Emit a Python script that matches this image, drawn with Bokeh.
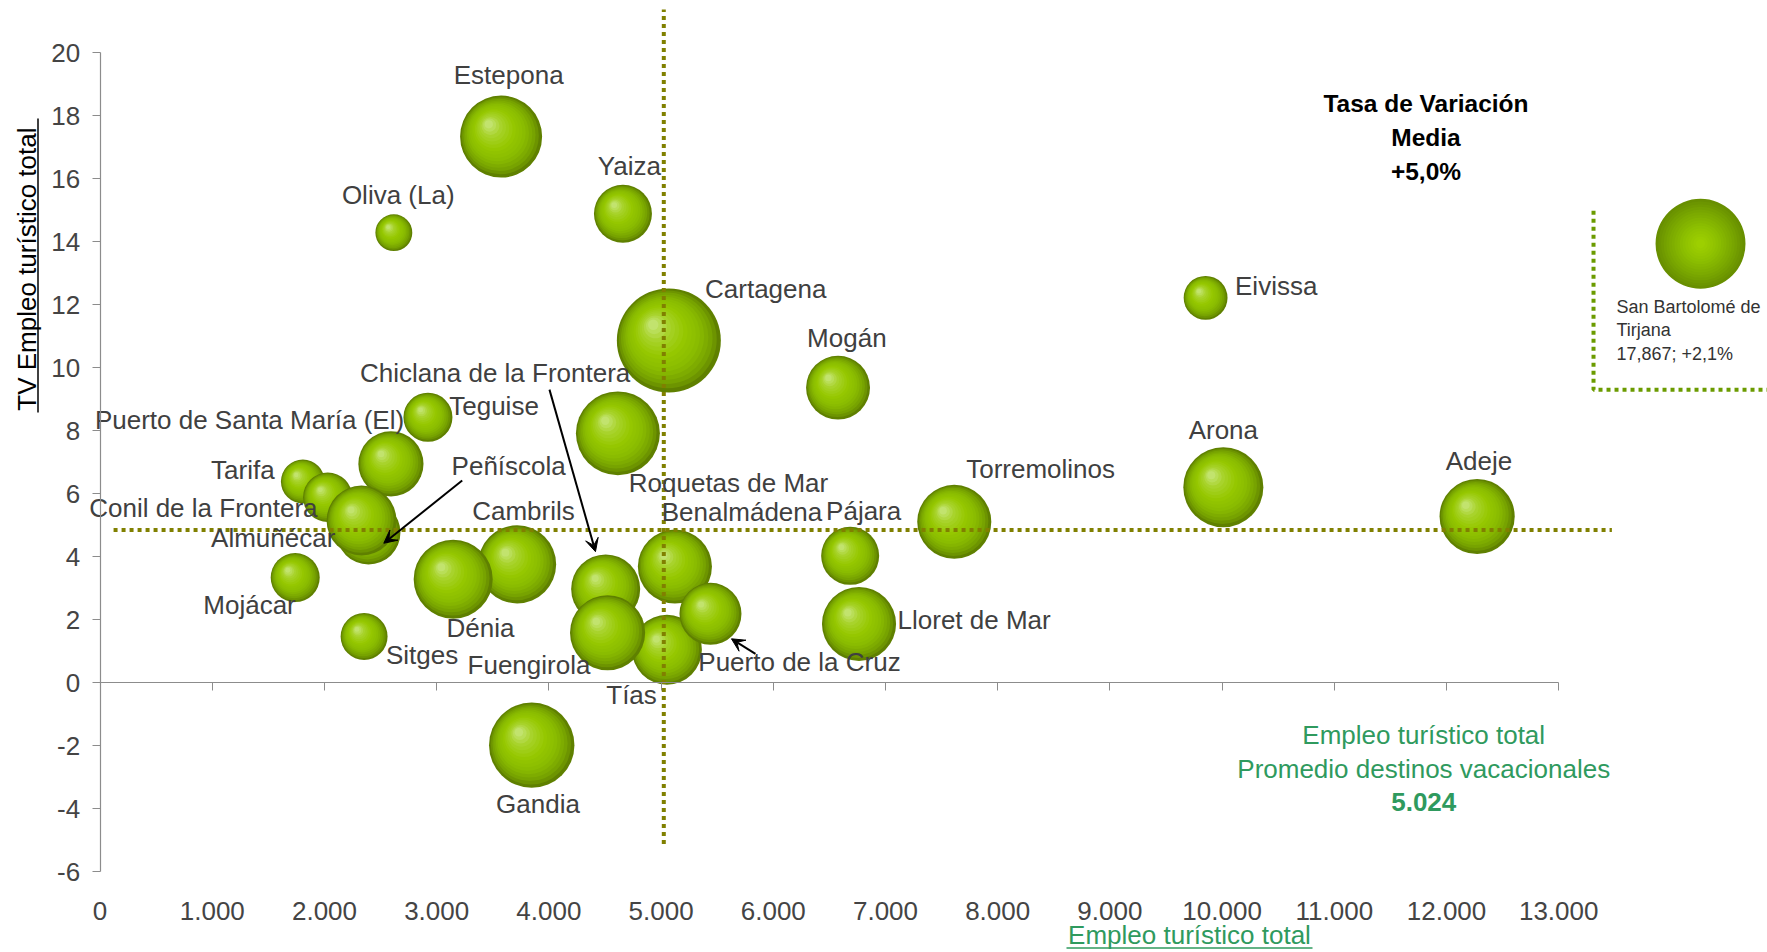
import math
from bokeh.plotting import figure
from bokeh.models import (ColumnDataSource, Label, Arrow, VeeHead,
                          FixedTicker, LinearAxis, Range1d)
from bokeh.core.properties import value
from bokeh.embed import file_html
from bokeh.resources import INLINE

# ------------------------------------------------------------------ data
destinos = ["Oliva (La)", "Estepona", "Yaiza", "Cartagena", "Mogán", "Eivissa",
            "Teguise", "Puerto de Santa María (El)", "Tarifa", "Conil de la Frontera",
            "Peñíscola", "Almuñécar", "Mojácar", "Sitges", "Cambrils", "Dénia",
            "Gandia", "Roquetas de Mar", "Chiclana de la Frontera", "Tías",
            "Fuengirola", "Benalmádena", "Puerto de la Cruz", "Pájara",
            "Lloret de Mar", "Torremolinos", "Arona", "Adeje"]
empleo_total = [2618, 3574, 4660, 5069, 6577, 9853,
                2922, 2592, 1807, 2029,
                2392, 2330, 1739, 2353, 3717, 3147,
                3847, 4615, 4506, 5052,
                4523, 5123, 5440, 6685,
                6764, 7613, 10011, 12273]
tv_empleo = [14.29, 17.34, 14.89, 10.87, 9.37, 12.22,
             8.43, 6.95, 6.39, 5.89,
             4.77, 5.15, 3.34, 1.47, 3.76, 3.29,
             -1.98, 7.92, 2.98, 1.05,
             1.59, 3.69, 2.19, 4.03,
             1.87, 5.11, 6.21, 5.28]
tam_burbuja = [34, 168, 84, 270, 102, 48,
               60, 106, 48, 61,
               102, 122, 60, 55, 152, 156,
               182, 176, 119, 122,
               141, 137, 96, 84,
               137, 137, 160, 141]

sb_nombre = ["San Bartolomé de", "Tirjana"]
sb_empleo = 17867
sb_tv = 2.1
sb_tam = 202

promedio_empleo = 5024
tv_media = 5.0
tv_media_linea = 4.85

x_ticks = list(range(0, 14000, 1000))
y_ticks = list(range(-6, 21, 2))

# ------------------------------------------------------------------ layout / style
W, H = 1767, 952
PX_X = 0.1122          # px per employment unit
PX_Y = 31.5            # px per TV unit
X_ORIGIN_PX = 99.6     # canvas x of employment 0
Y20_PX = 52.3          # canvas y of TV = 20
X0 = -X_ORIGIN_PX / PX_X
X1 = X0 + W / PX_X
Y1 = 20 + Y20_PX / PX_Y
Y0 = Y1 - H / PX_Y
R_MAX = 52.0


def cx(px):
    return X0 + px / PX_X


def cy(py):
    return Y1 - py / PX_Y


FONT = "Liberation Sans"
LABEL_COL = "#404040"
GREEN_TXT = "#2f9a5e"
OLIVE = "#808000"
INSET_GREEN = "#6b9b00"
AXIS_COL = "#8c8c8c"

label_off = {
    "Estepona": (7.6, -61.6), "Oliva (La)": (4.4, -37.3), "Yaiza": (6.4, -47.6),
    "Cartagena": (96.9, -51.5), "Mogán": (8.8, -49.3), "Eivissa": (70.6, -12.2),
    "Arona": (0, -57.3), "Adeje": (1.9, -55.1), "Torremolinos": (86.3, -52.5),
    "Pájara": (13.5, -44.8), "Lloret de Mar": (115.1, -3.5),
    "Benalmádena": (67.1, -54.4), "Roquetas de Mar": (110.6, 49.6),
    "Puerto de la Cruz": (89, 48.2), "Tías": (-35.4, 44.9),
    "Fuengirola": (-78.6, 32.6), "Chiclana de la Frontera": (-110.5, -216.4),
    "Teguise": (66.1, -11), "Puerto de Santa María (El)": (-141.4, -44.1),
    "Peñíscola": (140.2, -66.6), "Tarifa": (-60, -11.1),
    "Conil de la Frontera": (-124.4, 10.4), "Almuñécar": (-88.3, 17.5),
    "Cambrils": (6.3, -53.5), "Mojácar": (-45.7, 27), "Dénia": (27.3, 49),
    "Sitges": (57.9, 18.7), "Gandia": (6.3, 58.8),
}
arrows = [  # target, start offset px, end offset px (y down)
    ("Chiclana de la Frontera", (-56.2, -199.3), (-10.2, -37.3)),
    ("Peñíscola", (93.7, -52.0), (15.3, 10.7)),
    ("Puerto de la Cruz", (45.0, 40.0), (21.0, 25.0)),
]


def hx(c):
    return tuple(int(c[i:i + 2], 16) for i in (1, 3, 5))


def grad(stops, t):
    for (t0, c0), (t1, c1) in zip(stops, stops[1:]):
        if t <= t1:
            u = 0 if t1 == t0 else (t - t0) / (t1 - t0)
            a, b = hx(c0), hx(c1)
            return "#%02x%02x%02x" % tuple(round(a[i] + (b[i] - a[i]) * u) for i in range(3))
    return stops[-1][1]


STOPS = [(0.0, "#5f8000"), (0.1, "#749e00"), (0.3, "#88ba00"),
         (0.55, "#96c800"), (0.8, "#a8d32c"), (1.0, "#c2e36e")]
STOPS_INSET = [(0.0, "#688f00"), (0.3, "#7aa800"), (0.7, "#8fc200"), (1.0, "#9dcf00")]
NL = 16


def bubble_layers(xs, ys, radii, stops, shift):
    out = dict(x=[], y=[], size=[], color=[])
    for xv, yv, r in zip(xs, ys, radii):
        for k in range(NL):
            t = k / (NL - 1)
            f = 1 - 0.9 * t
            s = shift * r * t
            out["x"].append(xv - s / PX_X)
            out["y"].append(yv + s / PX_Y)
            out["size"].append(2 * r * f)
            out["color"].append(grad(stops, t))
    return out


radii = [R_MAX * math.sqrt(s / max(tam_burbuja)) for s in tam_burbuja]

p = figure(width=W, height=H, x_range=Range1d(X0, X1), y_range=Range1d(Y0, Y1),
           output_backend="svg", toolbar_location=None,
           x_axis_location=None, y_axis_location=None,
           min_border_left=0, min_border_right=0, min_border_top=0,
           min_border_bottom=0)
p.outline_line_color = None
p.xgrid.visible = False
p.ygrid.visible = False
p.background_fill_color = "white"

# x axis crossing at TV = 0, labels placed low (as in the reference)
xa = LinearAxis(fixed_location=0, ticker=FixedTicker(ticks=x_ticks),
                bounds=(x_ticks[0], x_ticks[-1]),
                major_label_overrides={t: f"{t:,}".replace(",", ".") for t in x_ticks},
                axis_line_color=AXIS_COL, axis_line_width=1.2,
                major_tick_line_color=AXIS_COL, major_tick_out=8, major_tick_in=0,
                minor_tick_line_color=None,
                major_label_standoff=211,
                major_label_text_font=FONT, major_label_text_font_size="26px",
                major_label_text_color="#444444")
p.add_layout(xa, "below")

ya = LinearAxis(fixed_location=0, ticker=FixedTicker(ticks=y_ticks),
                bounds=(y_ticks[0], y_ticks[-1]),
                major_label_overrides={t: str(t) for t in y_ticks},
                axis_line_color=AXIS_COL, axis_line_width=1.2,
                major_tick_line_color=AXIS_COL, major_tick_out=8, major_tick_in=0,
                minor_tick_line_color=None, major_label_standoff=12,
                major_label_text_font=FONT, major_label_text_font_size="26px",
                major_label_text_color="#444444")
p.add_layout(ya, "left")

# bubbles
src = ColumnDataSource(bubble_layers(empleo_total, tv_empleo, radii, STOPS, 0.3))
p.scatter(x="x", y="y", size="size", fill_color="color", line_color=None, source=src)

# inset bubble (San Bartolomé de Tirjana, off scale)
INSET_X, INSET_Y = 14264, 13.94
sb_r = R_MAX * math.sqrt(sb_tam / max(tam_burbuja))
src_sb = ColumnDataSource(bubble_layers([INSET_X], [INSET_Y], [sb_r], STOPS_INSET, 0.0))
p.scatter(x="x", y="y", size="size", fill_color="color", line_color=None, source=src_sb)

# average lines
p.segment(x0=[promedio_empleo], y0=[-5.12], x1=[promedio_empleo], y1=[cy(9)],
          line_color=OLIVE, line_width=4, line_dash="4 4")
p.segment(x0=[120], y0=[tv_media_linea], x1=[13474], y1=[tv_media_linea],
          line_color=OLIVE, line_width=4, line_dash="4 4")

# inset frame line
ix = INSET_X - 107 / PX_X
p.line(x=[ix, ix, X1 + 500], y=[INSET_Y + 33 / PX_Y, INSET_Y - 146 / PX_Y, INSET_Y - 146 / PX_Y],
       line_color=INSET_GREEN, line_width=4, line_dash="4 4")

# data labels
lab = ColumnDataSource(dict(
    x=empleo_total, y=tv_empleo, text=destinos,
    xo=[label_off[d][0] for d in destinos],
    yo=[label_off[d][1] for d in destinos]))
p.text(x="x", y="y", text="text", x_offset="xo", y_offset="yo", source=lab,
       text_align="center", text_baseline="middle",
       text_font=value(FONT), text_font_size="26px", text_color=LABEL_COL)

# arrows
for name, (sx, sy), (ex, ey) in arrows:
    i = destinos.index(name)
    xv, yv = empleo_total[i], tv_empleo[i]
    p.add_layout(Arrow(x_start=xv + sx / PX_X, y_start=yv - sy / PX_Y,
                       x_end=xv + ex / PX_X, y_end=yv - ey / PX_Y,
                       line_color="black", line_width=2,
                       end=VeeHead(size=13, fill_color="black", line_color="black")))

# inset texts
sb_lines = sb_nombre + [f"{sb_empleo:,}; +{str(sb_tv).replace('.', ',')}%"]
for k, t in enumerate(sb_lines):
    p.add_layout(Label(x=INSET_X, y=INSET_Y, x_offset=-84, y_offset=-(63.4 + 23.3 * k),
                       text=t, text_align="left", text_baseline="middle",
                       text_font=FONT, text_font_size="18px", text_color="#333333"))

# Tasa de variación media block
tasa = ["Tasa de Variación", "Media", f"+{tv_media:.1f}%".replace(".", ",")]
for k, t in enumerate(tasa):
    p.add_layout(Label(x=11817, y=18.38, y_offset=-34 * k, text=t,
                       text_align="center", text_baseline="middle",
                       text_font=FONT, text_font_size="24.5px", text_color="black",
                       text_font_style="bold"))

# promedio empleo block
prom = ["Empleo turístico total", "Promedio destinos vacacionales",
        f"{promedio_empleo:,}".replace(",", ".")]
for k, t in enumerate(prom):
    p.add_layout(Label(x=11797, y=-1.67, y_offset=-33.4 * k, text=t,
                       text_align="center", text_baseline="middle",
                       text_font=FONT, text_font_size="26px", text_color=GREEN_TXT,
                       text_font_style="bold" if k == 2 else "normal"))

# axis titles (underlined)
p.add_layout(Label(x=cx(26.5), y=cy(265), text="TV Empleo turístico  total",
                   angle=90, angle_units="deg",
                   text_align="center", text_baseline="middle",
                   text_font=FONT, text_font_size="26px", text_color="black"))
p.segment(x0=[cx(37.5)], y0=[cy(118)], x1=[cx(37.5)], y1=[cy(412)],
          line_color="black", line_width=1.5)
p.add_layout(Label(x=cx(1189), y=cy(934), text="Empleo turístico total",
                   text_align="center", text_baseline="middle",
                   text_font=FONT, text_font_size="26px", text_color=GREEN_TXT))
p.segment(x0=[cx(1066)], y0=[cy(947.5)], x1=[cx(1312)], y1=[cy(947.5)],
          line_color=GREEN_TXT, line_width=1.5)

open("out.html", "w").write(file_html(p, INLINE))
